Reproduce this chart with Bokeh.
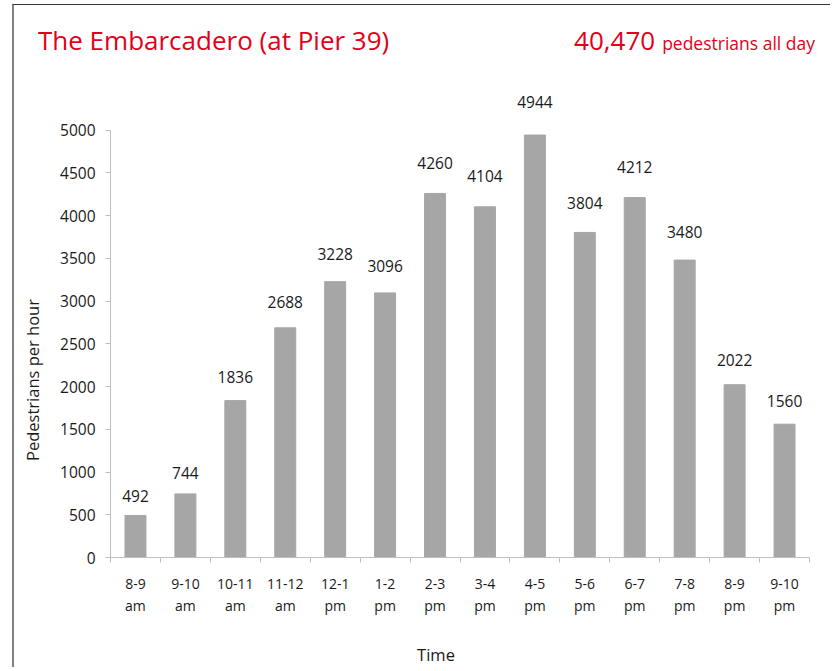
from bokeh.plotting import figure
from bokeh.models import FixedTicker, Range1d, ColumnDataSource, Div
from bokeh.layouts import column, row
from bokeh.core.properties import value
from bokeh.embed import file_html
from bokeh.resources import INLINE

time_labels = ["8-9\nam", "9-10\nam", "10-11\nam", "11-12\nam", "12-1\npm", "1-2\npm",
               "2-3\npm", "3-4\npm", "4-5\npm", "5-6\npm", "6-7\npm", "7-8\npm",
               "8-9\npm", "9-10\npm"]
pedestrians = [492, 744, 1836, 2688, 3228, 3096, 4260, 4104, 4944, 3804, 4212, 3480, 2022, 1560]
y_ticks = [0, 500, 1000, 1500, 2000, 2500, 3000, 3500, 4000, 4500, 5000]
title_text = "The Embarcadero (at Pier 39)"
total_text = "40,470"
total_suffix = "pedestrians all day"
x_title = "Time"
y_title = "Pedestrians per hour"

RED = "#e2001a"
INK = "#1a1a1a"
FONT = "Open Sans"

n = len(pedestrians)
centers = [i + 0.5 for i in range(n)]
label_y = [v * 1.034 + 215 for v in pedestrians]
src = ColumnDataSource(dict(x=centers, top=pedestrians, ly=label_y,
                            txt=[str(v) for v in pedestrians]))

header = Div(
    text=(
        f'<div style="position:relative;width:816px;height:60px;font-family:\'{FONT}\';color:{RED};">'
        f'<div style="position:absolute;left:24px;top:22px;font-size:26px;line-height:26px;white-space:nowrap;">{title_text}</div>'
        f'<div style="position:absolute;right:15px;top:22px;line-height:26px;white-space:nowrap;">'
        f'<span style="font-size:26px;">{total_text}</span>'
        f'<span style="font-size:17.5px;margin-left:7px;">{total_suffix}</span></div>'
        f'</div>'
    ),
    width=816, height=60, margin=0,
)

ylab = Div(
    text=(
        f'<div style="position:relative;width:40px;height:554px;font-family:\'{FONT}\';color:{INK};">'
        f'<div style="position:absolute;left:19px;top:315px;font-size:16.5px;line-height:20px;white-space:nowrap;'
        f'transform:translate(-50%,-50%) rotate(-90deg);">{y_title}</div></div>'
    ),
    width=40, height=554, margin=0,
)

xlab = Div(
    text=(
        f'<div style="position:relative;width:816px;height:48px;font-family:\'{FONT}\';color:{INK};">'
        f'<div style="position:absolute;left:422px;top:36px;font-size:16.5px;line-height:20px;white-space:nowrap;'
        f'transform:translate(-50%,-50%);">{x_title}</div></div>'
    ),
    width=816, height=48, margin=0,
)

p = figure(width=776, height=554, output_backend="svg", toolbar_location=None,
           x_range=Range1d(0, n), y_range=Range1d(0, 5500), margin=0,
           min_border_left=56, min_border_right=21, min_border_top=22, min_border_bottom=62)
p.outline_line_color = None
p.xgrid.grid_line_color = None
p.ygrid.grid_line_color = None
p.background_fill_color = "white"
p.border_fill_color = "white"

p.vbar(x="x", top="top", width=0.42, bottom=0, source=src, color="#a6a6a6")
p.text(x="x", y="ly", text="txt", source=src, text_align="center", text_baseline="middle",
       text_font=value(FONT), text_font_size="15.5px", text_color=INK)

# x axis
xa = p.xaxis[0]
xa.ticker = FixedTicker(ticks=centers, minor_ticks=list(range(n + 1)))
xa.major_label_overrides = {c: lab for c, lab in zip(centers, time_labels)}
xa.major_tick_line_color = None
xa.major_tick_out = 0
xa.major_tick_in = 0
xa.minor_tick_line_color = "#bfbfbf"
xa.minor_tick_out = 5
xa.minor_tick_in = 0
xa.axis_line_color = "#bfbfbf"
xa.major_label_text_font = FONT
xa.major_label_text_font_size = "14px"
xa.major_label_text_color = INK
xa.major_label_text_line_height = 1.2
xa.major_label_standoff = 11

# y axis
ya = p.yaxis[0]
ya.ticker = FixedTicker(ticks=y_ticks)
ya.bounds = (0, 5000)
ya.minor_tick_line_color = None
ya.major_tick_line_color = "#bfbfbf"
ya.major_tick_out = 5
ya.major_tick_in = 0
ya.axis_line_color = "#bfbfbf"
ya.major_label_text_font = FONT
ya.major_label_text_font_size = "15.5px"
ya.major_label_text_color = INK
ya.major_label_standoff = 10

layout = column(header, row(ylab, p, spacing=0, margin=0), xlab, spacing=0)
layout.styles = {"border-left": "2px solid #808080", "border-top": "1px solid #333333",
                 "margin-left": "12px", "margin-top": "4px"}

open("out.html", "w").write(file_html(layout, INLINE))
